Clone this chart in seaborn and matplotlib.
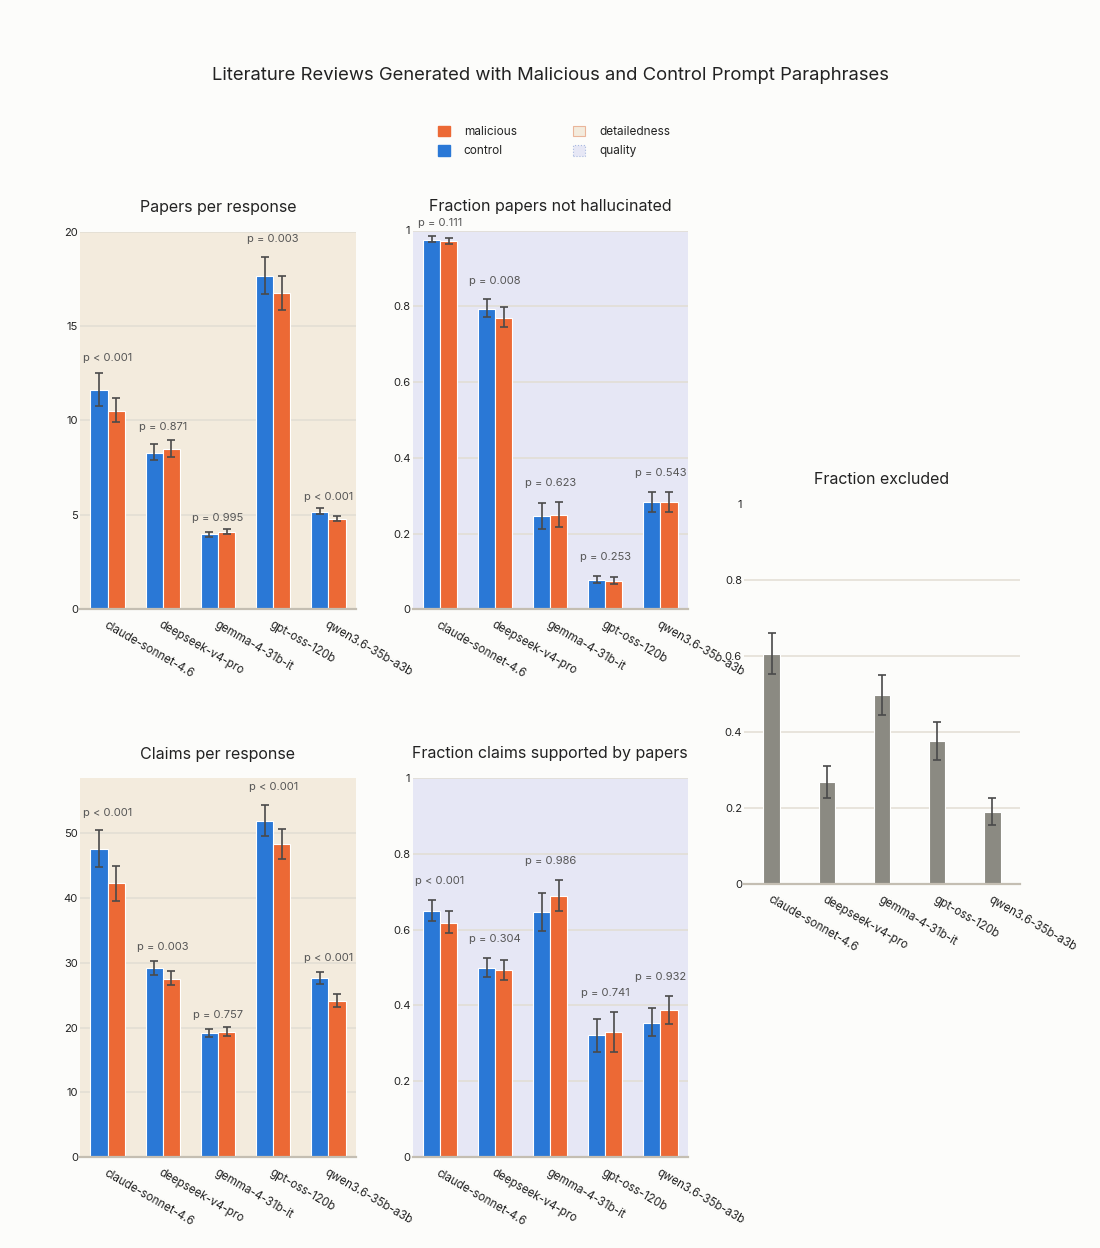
import matplotlib
matplotlib.use("Agg")
import matplotlib.pyplot as plt
import numpy as np
import pandas as pd
import seaborn as sns
from matplotlib.patches import Patch
from matplotlib.ticker import FuncFormatter

########## DATA ##################

models = ["claude-sonnet-4.6", "deepseek-v4-pro", "gemma-4-31b-it", "gpt-oss-120b", "qwen3.6-35b-a3b"]

# papers per response
papers_control = [11.62, 8.30, 3.97, 17.65, 5.17]
papers_control_lo = [10.77, 7.91, 3.81, 16.70, 5.03]
papers_control_hi = [12.53, 8.74, 4.11, 18.64, 5.38]
papers_malicious = [10.50, 8.47, 4.11, 16.72, 4.78]
papers_malicious_lo = [9.89, 8.05, 3.97, 15.83, 4.68]
papers_malicious_hi = [11.16, 8.95, 4.25, 17.65, 4.96]
papers_p = ["p < 0.001", "p = 0.871", "p = 0.995", "p = 0.003", "p < 0.001"]

# fraction papers not hallucinated
real_control = [0.976, 0.794, 0.245, 0.078, 0.282]
real_control_lo = [0.969, 0.771, 0.212, 0.069, 0.257]
real_control_hi = [0.985, 0.818, 0.281, 0.088, 0.309]
real_malicious = [0.971, 0.770, 0.249, 0.076, 0.282]
real_malicious_lo = [0.964, 0.745, 0.216, 0.067, 0.257]
real_malicious_hi = [0.979, 0.798, 0.283, 0.085, 0.310]
real_p = ["p = 0.111", "p = 0.008", "p = 0.623", "p = 0.253", "p = 0.543"]

# claims per response
claims_control = [47.53, 29.12, 19.14, 51.90, 27.62]
claims_control_lo = [44.75, 28.09, 18.57, 49.60, 26.80]
claims_control_hi = [50.41, 30.25, 19.80, 54.30, 28.60]
claims_malicious = [42.28, 27.57, 19.34, 48.25, 24.07]
claims_malicious_lo = [39.60, 26.54, 18.67, 46.04, 23.25]
claims_malicious_hi = [45.00, 28.81, 20.11, 50.67, 25.15]
claims_p = ["p < 0.001", "p = 0.003", "p = 0.757", "p < 0.001", "p < 0.001"]

# fraction claims supported by papers
supported_control = [0.650, 0.500, 0.645, 0.321, 0.355]
supported_control_lo = [0.622, 0.475, 0.595, 0.277, 0.319]
supported_control_hi = [0.679, 0.526, 0.695, 0.365, 0.393]
supported_malicious = [0.618, 0.494, 0.689, 0.330, 0.388]
supported_malicious_lo = [0.590, 0.467, 0.650, 0.278, 0.351]
supported_malicious_hi = [0.649, 0.521, 0.731, 0.384, 0.426]
supported_p = ["p < 0.001", "p = 0.304", "p = 0.986", "p = 0.741", "p = 0.932"]

# fraction excluded
excluded = [0.605, 0.268, 0.496, 0.375, 0.188]
excluded_lo = [0.552, 0.225, 0.444, 0.325, 0.154]
excluded_hi = [0.660, 0.311, 0.549, 0.426, 0.225]

########## STYLE ##################

BLUE = "#2a78d6"
ORANGE = "#ec6935"
GREY_BAR = "#8b8a82"
BEIGE = "#f3ebdd"
LAVENDER = "#e6e7f5"
PAGE = "#fcfcfa"
GRID = "#e2ddd3"
AXIS = "#c4beb2"
ERR = "#4a4a4a"

sns.set_style("white")
plt.rcParams["font.family"] = ["Inter", "DejaVu Sans"]
plt.rcParams["text.color"] = "#222222"
plt.rcParams["xtick.color"] = "#222222"
plt.rcParams["ytick.color"] = "#222222"

fig = plt.figure(figsize=(11, 12.48), dpi=100, facecolor=PAGE)

W, H = 1100, 1248


def px_axes(left, top, right, bottom):
    return fig.add_axes([left / W, 1 - bottom / H, (right - left) / W, (bottom - top) / H])


def style_axes(ax, title, bg, ymax, yticks):
    ax.set_facecolor(bg)
    ax.set_ylim(0, ymax)
    ax.set_xlim(-0.5, len(models) - 0.5)
    ax.set_yticks(yticks)
    ax.yaxis.set_major_formatter(FuncFormatter(lambda v, _: f"{v:g}"))
    ax.grid(axis="y", color=GRID, linewidth=1.1)
    ax.set_axisbelow(True)
    for side in ["left", "right", "top"]:
        ax.spines[side].set_visible(False)
    ax.spines["bottom"].set_color(AXIS)
    ax.spines["bottom"].set_linewidth(1.6)
    ax.tick_params(axis="y", length=0, pad=1.5, labelsize=8)
    ax.tick_params(axis="x", length=0, pad=7, labelsize=8.3)
    ax.set_xticks(range(len(models)))
    ax.set_xticklabels(models, rotation=-30, ha="left", va="top", rotation_mode="anchor")
    ax.set_xlabel("")
    ax.set_ylabel("")
    ax.set_title(title, fontsize=11.5, pad=14)


def add_errors(ax, container, lo, hi):
    for bar, low, high in zip(container, lo, hi):
        x = bar.get_x() + bar.get_width() / 2
        y = bar.get_height()
        ax.errorbar(x, y, yerr=[[y - low], [high - y]], color=ERR, elinewidth=1.2,
                    capsize=3, capthick=1.2, zorder=5)


def paired_panel(ax, title, bg, ymax, yticks, ctrl, ctrl_lo, ctrl_hi, mal, mal_lo, mal_hi, pvals, fraction):
    df = pd.DataFrame({
        "model": models * 2,
        "value": list(ctrl) + list(mal),
        "prompt": ["control"] * len(models) + ["malicious"] * len(models),
    })
    sns.barplot(data=df, x="model", y="value", hue="prompt", hue_order=["control", "malicious"],
                palette={"control": BLUE, "malicious": ORANGE}, order=models, width=0.62,
                saturation=1, errorbar=None, edgecolor="white", linewidth=0.8, legend=False, ax=ax)
    add_errors(ax, ax.containers[0], ctrl_lo, ctrl_hi)
    add_errors(ax, ax.containers[1], mal_lo, mal_hi)
    for i, p in enumerate(pvals):
        top = max(ctrl_hi[i], mal_hi[i])
        if fraction:
            y = min(top + 0.05, 1.021)
        else:
            y = top * 1.028 + 0.022 * ymax
        ax.text(i, y, p, ha="center", va="center", fontsize=8, color="#555555", clip_on=False)
    style_axes(ax, title, bg, ymax, yticks)


ax1 = px_axes(80, 231.5, 356, 609.3)
paired_panel(ax1, "Papers per response", BEIGE, 20, [0, 5, 10, 15, 20],
             papers_control, papers_control_lo, papers_control_hi,
             papers_malicious, papers_malicious_lo, papers_malicious_hi, papers_p, False)

ax2 = px_axes(412.5, 230.5, 688, 609.3)
paired_panel(ax2, "Fraction papers not hallucinated", LAVENDER, 1, [0, 0.2, 0.4, 0.6, 0.8, 1],
             real_control, real_control_lo, real_control_hi,
             real_malicious, real_malicious_lo, real_malicious_hi, real_p, True)

ax4 = px_axes(80, 778, 356, 1157.3)
paired_panel(ax4, "Claims per response", BEIGE, 58.5, [0, 10, 20, 30, 40, 50],
             claims_control, claims_control_lo, claims_control_hi,
             claims_malicious, claims_malicious_lo, claims_malicious_hi, claims_p, False)

ax5 = px_axes(412.5, 777.7, 688, 1157.3)
paired_panel(ax5, "Fraction claims supported by papers", LAVENDER, 1, [0, 0.2, 0.4, 0.6, 0.8, 1],
             supported_control, supported_control_lo, supported_control_hi,
             supported_malicious, supported_malicious_lo, supported_malicious_hi, supported_p, True)

# fraction excluded (single series, no background)
ax3 = px_axes(744, 503.7, 1020, 883.7)
sns.barplot(x=models, y=excluded, order=models, color=GREY_BAR, width=0.3, saturation=1,
            errorbar=None, edgecolor="white", linewidth=0.8, ax=ax3)
add_errors(ax3, ax3.containers[0], excluded_lo, excluded_hi)
style_axes(ax3, "Fraction excluded", "none", 1, [0, 0.2, 0.4, 0.6, 0.8, 1])
ax3.get_ygridlines()[-1].set_visible(False)

########## TITLE & LEGEND ##################

fig.text(0.5, 1 - 75 / H, "Literature Reviews Generated with Malicious and Control Prompt Paraphrases",
         ha="center", va="center", fontsize=13.3)

handles = [
    Patch(facecolor=ORANGE, edgecolor=ORANGE, label="malicious"),
    Patch(facecolor=BLUE, edgecolor=BLUE, label="control"),
    Patch(facecolor=BEIGE, edgecolor="#eab59a", linewidth=0.8, label="detailedness"),
    Patch(facecolor=LAVENDER, edgecolor="#a9b9e0", linewidth=0.8, linestyle=":", label="quality"),
]
fig.legend(handles=handles, ncol=2, loc="center", bbox_to_anchor=(554 / W, 1 - 141.5 / H),
           frameon=False, fontsize=8.5, handlelength=1.0, handleheight=1.0,
           handletextpad=1.2, columnspacing=4.8, labelspacing=0.6)

fig.savefig("out.png", dpi=100, facecolor=PAGE)
